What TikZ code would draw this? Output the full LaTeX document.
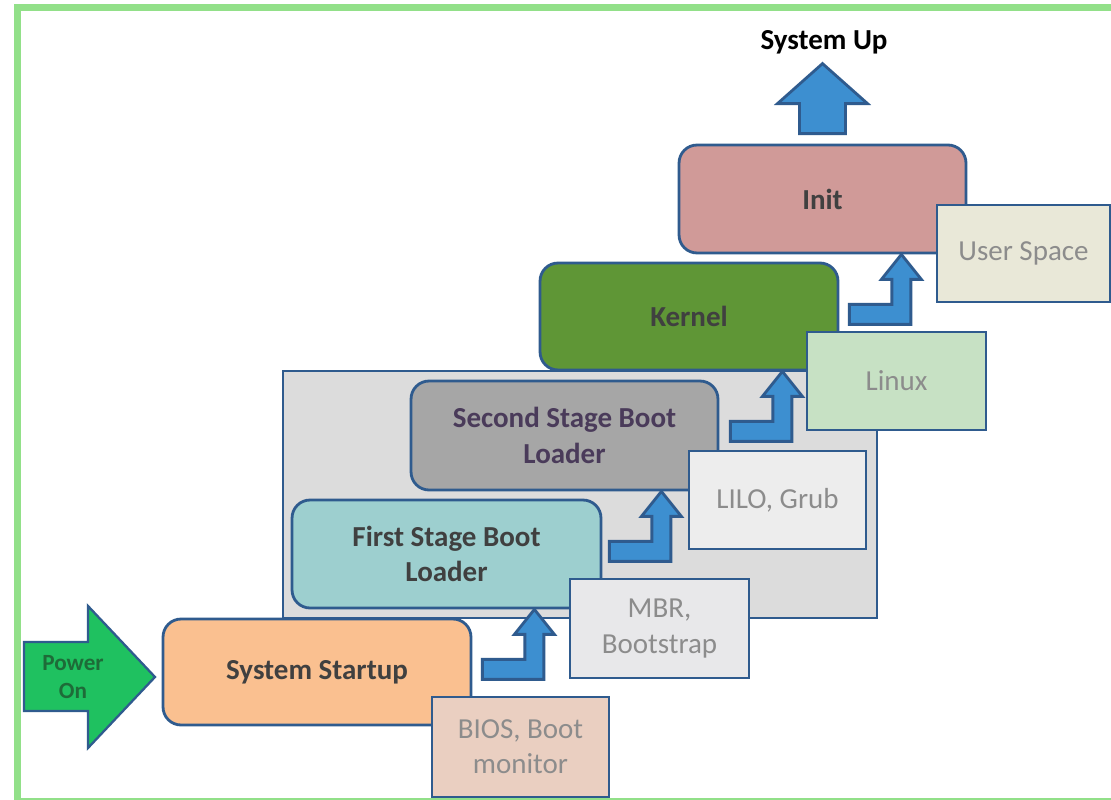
\documentclass[tikz,border=0pt]{standalone}
\usepackage{fontspec}
\setmainfont{Carlito}
\usepackage{xcolor}
\usepackage{tikz}
\usetikzlibrary{calc}
\definecolor{btEdge}{HTML}{2F5B8E}
\definecolor{btInk}{HTML}{404040}
\definecolor{btGrey}{HTML}{8C8C8C}
\definecolor{btFrame}{HTML}{92E089}
\definecolor{btPeach}{HTML}{FAC090}
\definecolor{btTan}{HTML}{EACFC1}
\definecolor{btTeal}{HTML}{9DCFCF}
\definecolor{btLight}{HTML}{E8E8EA}
\definecolor{btPanel}{HTML}{DCDCDC}
\definecolor{btStone}{HTML}{A6A6A6}
\definecolor{btPale}{HTML}{EDEDED}
\definecolor{btLeaf}{HTML}{5F9636}
\definecolor{btMint}{HTML}{C7E1C4}
\definecolor{btRose}{HTML}{D09A98}
\definecolor{btCream}{HTML}{E9E8D8}
\definecolor{btBlue}{HTML}{3D8FD0}
\definecolor{btGreen}{HTML}{1FC160}
\definecolor{btDeepGreen}{HTML}{1E6B38}
\definecolor{btPlum}{HTML}{4A3B5A}
\tikzset{
  % Boot stage box (rounded)
  stagebox/.style={rectangle,rounded corners=0.36cm,
    draw=btEdge,line width=1.6pt,inner sep=0pt,
    align=center,font=\fontsize{16.5}{20}\selectfont\bfseries,text=btInk},
  % Side note box (square)
  sidebox/.style={rectangle,draw=btEdge,line width=1.6pt,inner sep=0pt,
    align=center,font=\fontsize{16.5}{20}\selectfont,text=btGrey},
  % Grey panel behind the boot loaders
  panel/.style={rectangle,draw=btEdge,line width=1.2pt,fill=btPanel,
    minimum width=11.88cm,minimum height=4.94cm},
  % Block arrows
  bluearr/.style={draw=btEdge,line width=1.6pt,fill=btBlue,line join=miter},
  greenarr/.style={draw=btEdge,line width=1.3pt,fill=btGreen,line join=miter},
  lbl/.style={font=\fontsize{16.5}{20}\selectfont\bfseries,text=black},
  % Bent arrow, origin at its tip
  bentup/.pic={
    \path[bluearr] (-52,50) -- (-9.5,50) -- (-9.5,25) -- (-20,25) -- (0,0)
      -- (20,25) -- (9.5,25) -- (9.5,70) -- (-52,70) -- cycle;},
  % Straight up arrow, origin at its tip
  uparr/.pic={
    \path[bluearr] (0,0) -- (45,40) -- (23,40) -- (23,70) -- (-23,70)
      -- (-23,40) -- (-45,40) -- cycle;},
}

\begin{document}
\begin{tikzpicture}[x=0.02cm,y=-0.02cm]
  \useasboundingbox[fill=white] (0,0) rectangle (1111,800);

  \node[panel] (loaders) at (580,494.5) {};

  \node[stagebox,fill=btPeach,minimum width=6.16cm,minimum height=2.12cm]
    (startup) at (317,672) {System Startup};
  \node[sidebox,fill=btTan,minimum width=3.54cm,minimum height=2cm]
    (bios) at (520.5,747) {BIOS, Boot\\monitor};
  \node[stagebox,fill=btTeal,minimum width=6.18cm,minimum height=2.16cm]
    (first) at (446.5,554) {First Stage Boot\\Loader};
  \node[sidebox,fill=btLight,minimum width=3.58cm,minimum height=1.98cm]
    (mbr) at (659.5,628.5) {MBR,\\Bootstrap};
  \node[stagebox,fill=btStone,text=btPlum,minimum width=6.14cm,minimum height=2.18cm]
    (second) at (564.5,435.5) {Second Stage Boot\\Loader};
  \node[sidebox,fill=btPale,minimum width=3.54cm,minimum height=1.96cm]
    (lilo) at (777.5,500) {LILO, Grub};
  \node[stagebox,fill=btLeaf,minimum width=5.96cm,minimum height=2.14cm]
    (kernel) at (689,316.5) {Kernel};
  \node[sidebox,fill=btMint,minimum width=3.58cm,minimum height=1.96cm]
    (linux) at (896.5,381) {Linux};
  \node[stagebox,fill=btRose,minimum width=5.74cm,minimum height=2.16cm]
    (init) at (822.5,199) {Init};
  \node[sidebox,fill=btCream,minimum width=3.46cm,minimum height=1.94cm]
    (user) at (1023.5,253.5) {User Space};

  \pic at ($(first.south east)+(-68,0)$) {bentup};
  \pic at ($(second.south east)+(-58,0)$) {bentup};
  \pic at ($(kernel.south east)+(-57,0)$) {bentup};
  \pic at ($(init.south east)+(-66,0)$) {bentup};

  \pic at ($(init.north)+(0,-80)$) {uparr};
  \node[lbl] (sysup) at (824,42) {System Up};

  \path[greenarr] (24,642) -- (88,642) -- (88,606) -- (155,677)
    -- (88,748) -- (88,711) -- (24,711) -- cycle;
  \node[font=\fontsize{13.2}{16}\selectfont\bfseries,text=btDeepGreen,align=center]
    (power) at (73,677) {Power\\On};

  \draw[btFrame,line width=0.14cm] (17.5,7.5) rectangle (1118,801);
\end{tikzpicture}
\end{document}
